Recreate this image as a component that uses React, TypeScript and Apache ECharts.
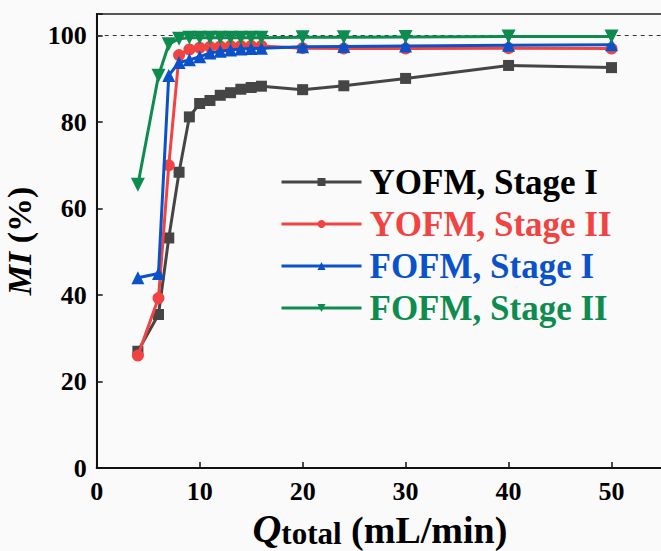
import React, { useEffect, useRef } from "react";
import * as echarts from "echarts";

const xValues = [4, 6, 7, 8, 9, 10, 11, 12, 13, 14, 15, 16, 20, 24, 30, 40, 50];
const yofmStage1 = [27, 35.5, 53.2, 68.4, 81.2, 84.3, 85.0, 86.2, 86.8, 87.6, 88.0, 88.3, 87.5, 88.4, 90.1, 93.1, 92.6];
const yofmStage2 = [26, 39.3, 70, 95.5, 96.8, 97.2, 97.4, 97.5, 97.6, 97.6, 97.6, 97.6, 97.1, 97.0, 97.0, 97.1, 97.0];
const fofmStage1 = [44, 45, 90.8, 93.8, 94.4, 95.1, 96.0, 96.4, 96.7, 96.9, 97.0, 97.1, 97.4, 97.5, 97.6, 97.8, 97.9];
const fofmStage2 = [65.5, 90.7, 98.0, 99.3, 99.5, 99.5, 99.5, 99.5, 99.5, 99.5, 99.5, 99.5, 99.6, 99.6, 99.7, 99.8, 99.8];
const seriesNames = ["YOFM, Stage I", "YOFM, Stage II", "FOFM, Stage I", "FOFM, Stage II"];
const lineColors = ["#454545", "#f24343", "#0a52c9", "#0e8c50"];
const textColors = ["#000000", "#f24343", "#0a52c9", "#0e8c50"];
const xTicks = { min: 0, max: 55, interval: 10 };
const yTicks = { min: 0, max: 105, interval: 20 };

const FONT = "Liberation Serif";

export default function App() {
  const ref = useRef<HTMLDivElement>(null);
  useEffect(() => {
    if (!ref.current) return;
    const chart = echarts.init(ref.current, null, { renderer: "svg" });
    const pair = (ys: number[]) => xValues.map((x, i) => [x, ys[i]]);
    const datas = [yofmStage1, yofmStage2, fofmStage1, fofmStage2];
    const symbols = ["rect", "circle", "triangle", "triangle"];
    const rotates = [0, 0, 0, 180];
    const sizes = [11, 12, 13, 14];
    const series: any[] = datas.map((d, i) => ({
      name: seriesNames[i],
      type: "line",
      data: pair(d),
      symbol: symbols[i],
      symbolSize: sizes[i],
      symbolRotate: rotates[i],
      showSymbol: true,
      lineStyle: { color: lineColors[i], width: 3 },
      itemStyle: { color: lineColors[i] },
      z: 2 + i,
    }));
    series[0].markLine = {
      silent: true,
      symbol: "none",
      label: { show: false },
      lineStyle: { color: "#333", width: 1, type: [4, 4] },
      data: [{ yAxis: 100 }],
    };
    chart.setOption({
      animation: false,
      backgroundColor: "#fafafa",
      textStyle: { fontFamily: FONT },
      grid: {
        left: 96.7,
        top: 14,
        bottom: 83,
        right: -2,
        show: true,
        borderColor: "#222",
        borderWidth: 1.5,
        containLabel: false,
        outerBoundsMode: "none",
      },
      legend: {
        orient: "vertical",
        left: 280,
        top: 161,
        padding: 0,
        itemGap: 0,
        itemWidth: 80,
        itemHeight: 10,
        lineStyle: { width: 3 },
        textStyle: {
          fontFamily: FONT,
          fontWeight: "bold",
          fontSize: 35,
          lineHeight: 42,
          padding: [0, 0, 0, 3],
        },
        data: seriesNames.map((n, i) => ({ name: n, textStyle: { color: textColors[i] } })),
      },
      xAxis: {
        type: "value",
        min: xTicks.min,
        max: xTicks.max,
        interval: xTicks.interval,
        axisLine: { lineStyle: { color: "#111", width: 2 } },
        axisTick: { inside: true, length: 6, lineStyle: { color: "#111", width: 1.5 } },
        splitLine: { show: false },
        axisLabel: {
          color: "#000",
          fontFamily: FONT,
          fontWeight: "bold",
          fontSize: 26,
          margin: 10,
          formatter: (v: number) => (v > 50 ? "" : String(v)),
        },
        name: "{q|Q}{t|total}{u| (mL/min)}",
        nameLocation: "middle",
        nameGap: 30,
        nameTextStyle: {
          rich: {
            q: { fontFamily: FONT, fontStyle: "italic", fontWeight: "bold", fontSize: 40, color: "#000", verticalAlign: "bottom", lineHeight: 44 },
            t: { fontFamily: FONT, fontWeight: "bold", fontSize: 31, color: "#000", verticalAlign: "bottom", lineHeight: 40 },
            u: { fontFamily: FONT, fontWeight: "bold", fontSize: 38, color: "#000", verticalAlign: "bottom", lineHeight: 43 },
          },
        },
      },
      yAxis: {
        type: "value",
        min: yTicks.min,
        max: yTicks.max,
        interval: yTicks.interval,
        axisLine: { show: true, lineStyle: { color: "#111", width: 2 } },
        axisTick: { show: true, inside: true, length: 6, lineStyle: { color: "#111", width: 1.5 } },
        splitLine: { show: false },
        axisLabel: {
          color: "#000",
          fontFamily: FONT,
          fontWeight: "bold",
          fontSize: 26,
          margin: 10,
          formatter: (v: number) => (v > 100 ? "" : String(v)),
        },
        name: "{m|MI}{p| (%)}",
        nameLocation: "middle",
        nameRotate: 90,
        nameGap: 52,
        nameTextStyle: {
          rich: {
            m: { fontFamily: FONT, fontStyle: "italic", fontWeight: "bold", fontSize: 34, color: "#000" },
            p: { fontFamily: FONT, fontWeight: "bold", fontSize: 34, color: "#000" },
          },
        },
      },
      series,
    });
    return () => chart.dispose();
  }, []);
  return (
    <div
      ref={ref}
      style={{ position: "fixed", left: 0, top: 0, width: 661, height: 551, background: "#fafafa" }}
    />
  );
}
